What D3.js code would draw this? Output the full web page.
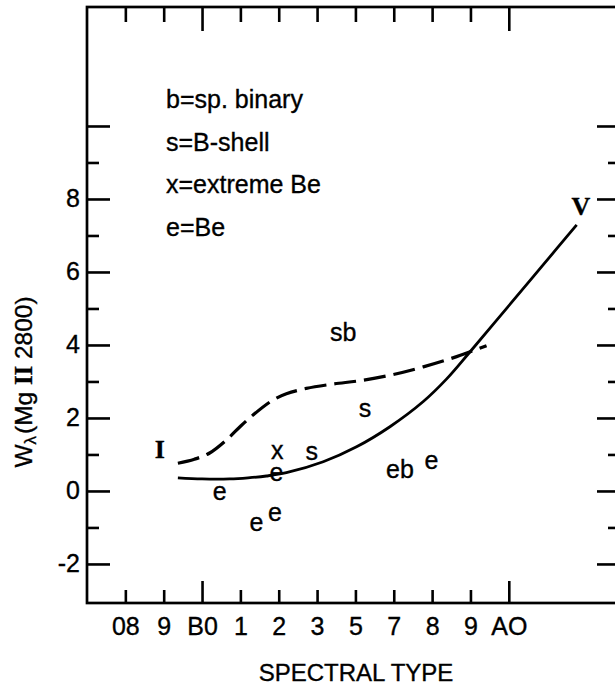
<!DOCTYPE html>
<html><head><meta charset="utf-8">
<script src="https://cdn.jsdelivr.net/npm/d3@7"></script>
<style>
body{margin:0;background:#fff}
text{font-family:"Liberation Sans",Arial,Helvetica,sans-serif;fill:#000;stroke:#000;stroke-width:0.35px}
</style>
</head><body>
<svg id="chart" width="615" height="687"></svg>
<script>
// ---- data (x = spectral-type index: 08=0 ... A0=10) ----
const xTickLabels = ["08","9","B0","1","2","3","5","7","8","9","AO"];
const xTickIndex  = [0,1,2,3,4,5,6,7,8,9,10];
const xMajorIndex = [2,10];
const yTickValues = [-2,-1,0,1,2,3,4,5,6,7,8,9,10];
const yLabelValues = [-2,0,2,4,6,8];

// luminosity class I (dashed) curve
const dashedX = [1.37,1.8,2.2,2.64,2.99,3.33,3.85,4.2,4.72,5.42,6.11,6.9,7.77,8.64,9.42];
const dashedY = [0.76,0.87,1.04,1.40,1.76,2.08,2.49,2.66,2.81,2.93,3.02,3.17,3.40,3.68,3.98];
// luminosity class V (solid) curve
const solidX = [1.37,2.0,2.72,3.2,3.68,4.2,5.16,6.03,6.9,7.77,8.38,8.98,10.1,10.9,11.77];
const solidY = [0.36,0.33,0.33,0.36,0.41,0.50,0.80,1.21,1.76,2.45,3.07,3.80,5.2,6.2,7.29];

// individual stars (letter codes)
const starText = ["sb","s","x","s","e","e","e","e","eb","e"];
const starX    = [5.68,6.25,3.96,4.86,3.94,2.46,3.42,3.90,7.16,7.98];
const starY    = [4.28,2.20,1.07,1.03,0.45,-0.05,-0.91,-0.64,0.55,0.80];

const classText = ["I","V"];
const classX = [0.90,11.88];
const classY = [1.15,7.79];

const legendLines = ["b=sp. binary","s=B-shell","x=extreme Be","e=Be"];

// ---- scales ----
const svg = d3.select("#chart");
svg.append("rect").attr("width",615).attr("height",687).attr("fill","#fff");
const x = d3.scaleLinear().domain([-1.0,12.9]).range([87,620]);
const y = d3.scaleLinear().domain([-3.07,13.26]).range([603,7]);
const FS = 25;

// ---- axes ----
function styleAxis(g, majors, majorLen, attr){
  g.select(".domain").remove();
  g.selectAll(".tick line").attr("stroke","#000").attr("stroke-width",2.6);
  g.selectAll(".tick").filter(d=>majors.includes(d)).select("line").attr(attr, majorLen);
  g.selectAll(".tick text").style("font-size",FS+"px").attr("fill","#000");
}
const gB = svg.append("g").attr("transform",`translate(0,${y(-3.07)})`)
  .call(d3.axisBottom(x).tickValues(xTickIndex).tickSize(-13).tickPadding(14)
        .tickFormat((d,i)=>xTickLabels[i]));
styleAxis(gB, xMajorIndex, -22, "y2");

const gT = svg.append("g").attr("transform",`translate(0,${y(13.26)})`)
  .call(d3.axisTop(x).tickValues(xTickIndex).tickSize(-15).tickFormat(""));
styleAxis(gT, xMajorIndex, 24, "y2");

const yMajors = [-2,0,2,4,6,8,10];
const gL = svg.append("g").attr("transform",`translate(${x(-1.0)},0)`)
  .call(d3.axisLeft(y).tickValues(yTickValues).tickSize(-12).tickPadding(7)
        .tickFormat(d=>yLabelValues.includes(d)?String(d):""));
styleAxis(gL, yMajors, 23, "x2");

const gR = svg.append("g").attr("transform",`translate(${x(12.9)},0)`)
  .call(d3.axisRight(y).tickValues(yTickValues).tickSize(-12).tickFormat(""));
styleAxis(gR, yMajors, -23, "x2");

// frame
svg.append("rect").attr("x",x(-1.0)).attr("y",y(13.26))
  .attr("width",x(12.9)-x(-1.0)).attr("height",y(-3.07)-y(13.26))
  .attr("fill","none").attr("stroke","#000").attr("stroke-width",2.7);

// ---- curves ----
const line = d3.line().x(d=>x(d[0])).y(d=>y(d[1])).curve(d3.curveCatmullRom.alpha(0.5));
svg.append("path").datum(dashedX.map((v,i)=>[v,dashedY[i]]))
  .attr("d",line).attr("fill","none").attr("stroke","#000")
  .attr("stroke-width",3.2).attr("stroke-dasharray","22,8");
svg.append("path").datum(solidX.map((v,i)=>[v,solidY[i]]))
  .attr("d",line).attr("fill","none").attr("stroke","#000").attr("stroke-width",2.8);

// ---- star letters ----
svg.append("g").selectAll("text").data(starText).join("text")
  .attr("x",(d,i)=>x(starX[i])).attr("y",(d,i)=>y(starY[i]))
  .attr("dy","0.27em").attr("text-anchor","middle").style("font-size",FS+"px")
  .text(d=>d);

// luminosity classes
svg.append("g").selectAll("text").data(classText).join("text")
  .attr("x",(d,i)=>x(classX[i])).attr("y",(d,i)=>y(classY[i]))
  .attr("dy","0.34em").attr("text-anchor","middle")
  .style("font-family","'Liberation Serif','Times New Roman',serif")
  .style("font-weight","bold").style("font-size","26px")
  .text(d=>d);

// ---- legend ----
svg.append("g").selectAll("text").data(legendLines).join("text")
  .attr("x",166).attr("y",(d,i)=>108+i*42.7).style("font-size",FS+"px")
  .text(d=>d);

// ---- axis titles ----
svg.append("text").attr("x",356).attr("y",681).attr("text-anchor","middle")
  .style("font-size","24px").text("SPECTRAL TYPE");

const yt = svg.append("text").attr("transform","translate(32,382) rotate(-90)")
  .attr("text-anchor","middle").style("font-size","24.5px");
yt.append("tspan").text("W");
yt.append("tspan").attr("dy",4).style("font-size","17px").text("λ");
yt.append("tspan").attr("dy",-4).attr("dx",2).text("(Mg ");
yt.append("tspan").style("font-family","'Liberation Serif','Times New Roman',serif")
  .style("font-weight","bold").text("II");
yt.append("tspan").text(" 2800)");
</script>
</body></html>
